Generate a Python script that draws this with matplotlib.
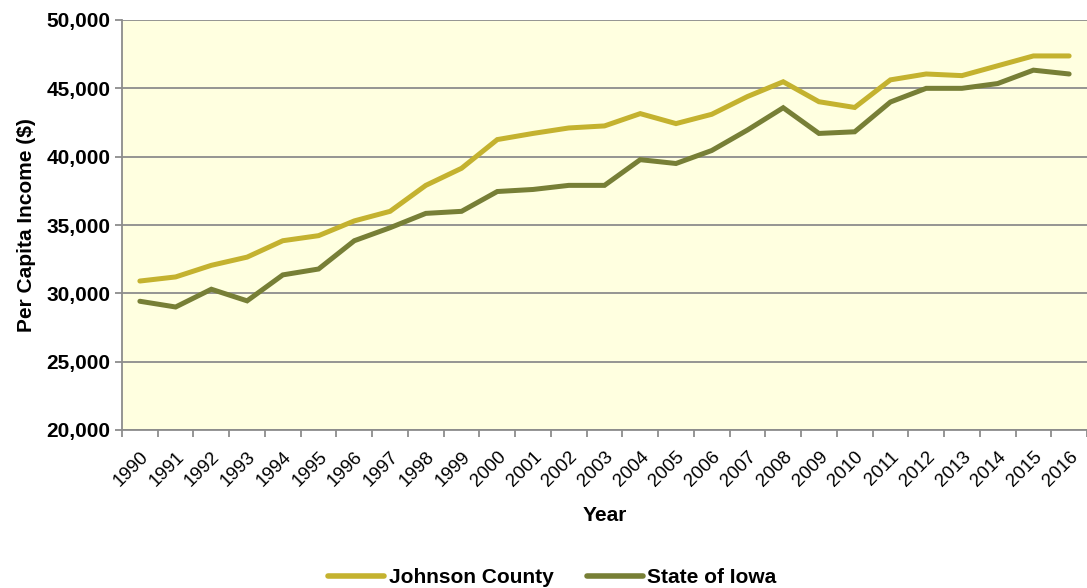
import matplotlib
matplotlib.use("Agg")
import matplotlib.pyplot as plt
from matplotlib.ticker import FuncFormatter, FixedLocator
import numpy as np

years = [str(y) for y in range(1990, 2017)]
johnson_county = [30900, 31200, 32050, 32650, 33850, 34220, 35300, 36000, 37900, 39150,
                  41250, 41700, 42100, 42250, 43150, 42420, 43100, 44400, 45480, 44020,
                  43600, 45620, 46050, 45930, 46650, 47370, 47370]
state_of_iowa = [29420, 29000, 30300, 29450, 31350, 31780, 33850, 34800, 35850, 36000,
                 37450, 37600, 37900, 37900, 39780, 39500, 40450, 41950, 43580, 41700,
                 41820, 44000, 45000, 45000, 45350, 46330, 46050]
series_names = ["Johnson County", "State of Iowa"]
y_ticks = [20000, 25000, 30000, 35000, 40000, 45000, 50000]

plt.rcParams['font.family'] = ['Liberation Sans', 'DejaVu Sans']

fig = plt.figure(figsize=(10.87, 5.88), dpi=100)
ax = fig.add_axes([122/1087, 1-430/588, 1-122/1087, 410/588])
ax.set_facecolor('#FFFFE0')

x = np.arange(len(years))
ax.plot(x, johnson_county, color='#C4B22F', lw=3.6, solid_capstyle='round',
        solid_joinstyle='miter', label=series_names[0], zorder=3)
ax.plot(x, state_of_iowa, color='#777F36', lw=3.6, solid_capstyle='round',
        solid_joinstyle='miter', label=series_names[1], zorder=3)

ax.set_xlim(-0.5, len(years) - 0.5)
ax.set_ylim(20000, 50000)
ax.set_yticks(y_ticks)
ax.yaxis.set_major_formatter(FuncFormatter(lambda v, p: f"{int(v):,}"))
ax.grid(axis='y', color='#8C8C8C', lw=1.3, zorder=1)
ax.set_axisbelow(True)

ax.set_xticks(x)
ax.set_xticklabels(years, rotation=45, ha='right', rotation_mode='anchor', fontsize=13.5)
ax.xaxis.set_minor_locator(FixedLocator(np.arange(-0.5, len(years), 1.0)))
ax.tick_params(axis='x', which='major', length=0, pad=13)
ax.tick_params(axis='x', which='minor', length=5, color='#8C8C8C', width=1.3)
ax.tick_params(axis='y', length=5, color='#8C8C8C', width=1.3, labelsize=15)
for lbl in ax.get_yticklabels():
    lbl.set_fontweight('bold')

for s in ['top', 'right']:
    ax.spines[s].set_visible(False)
for s in ['left', 'bottom']:
    ax.spines[s].set_color('#8C8C8C')
    ax.spines[s].set_linewidth(1.3)

ax.set_xlabel('Year', fontsize=15, fontweight='bold', labelpad=12)
ax.set_ylabel('Per Capita Income ($)', fontsize=15, fontweight='bold', labelpad=7)

leg = fig.legend(loc='lower center', bbox_to_anchor=(0.508, -0.03), ncol=2, frameon=False,
                 prop={'size': 15, 'weight': 'bold'}, handlelength=2.7, handletextpad=0.2,
                 columnspacing=1.6)
for line in leg.get_lines():
    line.set_linewidth(4)

fig.savefig('out.png', dpi=100)
